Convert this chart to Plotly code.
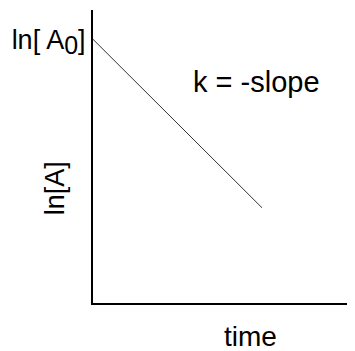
import plotly.graph_objects as go

# données du schéma (ln[A] en fonction du temps, cinétique d'ordre 1)
time = [0, 0.65]
ln_a = [0.9, 0.325]
y_ticks = [0.9]
y_tick_labels = ["ln[ A<sub><span style='font-size:25px'>0</span></sub>]"]

police = "Liberation Sans, Arial, sans-serif"

fig = go.Figure()
fig.add_trace(go.Scatter(
    x=time, y=ln_a,
    mode="lines",
    line=dict(color="#333333", width=1),
    hoverinfo="none",
    showlegend=False
))

# textes placés à la main
fig.add_annotation(
    x=0.378, y=0.755, xref="x", yref="y",
    text="k = -slope", showarrow=False,
    xanchor="left", yanchor="middle",
    font=dict(family=police, size=29, color="black")
)
fig.add_annotation(
    x=0.604, y=-0.115, xref="paper", yref="paper",
    text="time", showarrow=False,
    xanchor="center", yanchor="middle",
    font=dict(family=police, size=28, color="black")
)
fig.add_annotation(
    x=-0.146, y=0.392, xref="paper", yref="paper",
    text="ln[A]", showarrow=False, textangle=-90,
    xanchor="center", yanchor="middle",
    font=dict(family=police, size=27, color="black")
)

# la page ajoute 8 px de marge autour de la figure
fig.update_layout(
    width=347, height=343,
    margin=dict(l=85, r=2, t=2, b=48),
    paper_bgcolor="white",
    plot_bgcolor="white",
    xaxis=dict(
        range=[0, 1], showgrid=False, zeroline=False, automargin=False,
        showline=True, linecolor="black", linewidth=2,
        showticklabels=False, ticks=""
    ),
    yaxis=dict(
        range=[0, 1], showgrid=False, zeroline=False, automargin=False,
        showline=True, linecolor="black", linewidth=2,
        tickvals=y_ticks, ticktext=y_tick_labels, ticks="",
        tickfont=dict(family=police, size=27, color="black")
    )
)

fig.write_html("out.html")
